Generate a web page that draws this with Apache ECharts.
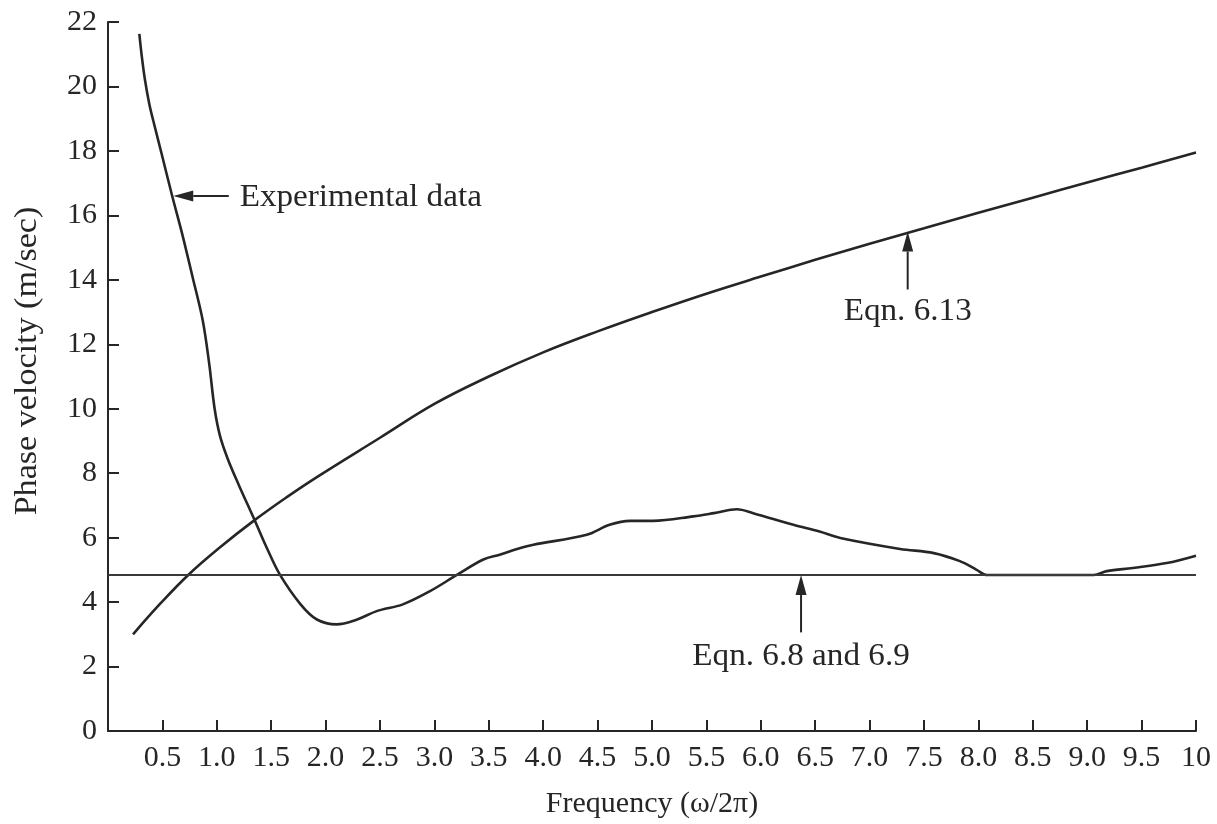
<!DOCTYPE html>
<html>
<head>
<meta charset="utf-8">
<script src="https://cdn.jsdelivr.net/npm/echarts@6/dist/echarts.min.js"></script>
<style>
html,body{margin:0;padding:0;background:#fff;}
#chart{width:1217px;height:824px;}
</style>
</head>
<body>
<div id="chart"></div>
<script>
// ---- data ----
const xTickLabels = ['', '0.5','1.0','1.5','2.0','2.5','3.0','3.5','4.0','4.5','5.0','5.5','6.0','6.5','7.0','7.5','8.0','8.5','9.0','9.5','10'];
const yTickLabels = ['0','2','4','6','8','10','12','14','16','18','20','22'];

const expFreq = [0.288,0.31,0.34,0.38,0.43,0.49,0.59,0.68,0.78,0.87,0.93,0.98,1.03,1.10,1.20,1.34,1.46,1.58,1.77,1.92,2.10,2.29,2.47,2.71,2.96,3.21,3.45,3.60,3.79,3.91,4.40,4.61,4.80,5.01,5.38,5.57,5.78,5.93,6.30,6.54,6.73,7.28,7.59,7.83,7.98,8.08,9.06,9.18,9.42,9.73,10.0];
const expVel  = [21.63,20.95,20.2,19.45,18.75,17.95,16.6,15.45,14.05,12.75,11.4,10.0,9.15,8.45,7.65,6.6,5.68,4.85,3.93,3.46,3.31,3.46,3.72,3.93,4.34,4.85,5.32,5.47,5.68,5.78,6.09,6.4,6.52,6.52,6.66,6.76,6.88,6.76,6.40,6.19,5.99,5.65,5.52,5.27,5.01,4.84,4.84,4.96,5.06,5.21,5.44];

const eq613Freq = [0.23,0.48,0.74,1.03,1.35,1.64,1.92,2.5,3.0,3.5,4.0,4.5,5.0,5.5,6.0,6.5,7.0,7.5,8.0,8.5,9.0,9.5,10.0];
const eq613Vel  = [3.0,3.95,4.85,5.7,6.55,7.25,7.88,9.1,10.15,11.0,11.75,12.4,13.0,13.57,14.1,14.62,15.12,15.6,16.08,16.55,17.02,17.48,17.95];

const eq68Freq = [0, 10];
const eq68Vel  = [4.84, 4.84];

// annotations: label, arrow tip (freq, vel), arrow tail (freq, vel), text anchor (freq, vel)
const annotations = [
  {text:'Experimental data', tip:[0.60,16.6], tail:[1.11,16.6], at:[1.21,16.55], align:'left'},
  {text:'Eqn. 6.13', tip:[7.35,15.5], tail:[7.35,13.7], at:[7.35,13.0], align:'center'},
  {text:'Eqn. 6.8 and 6.9', tip:[6.37,4.84], tail:[6.37,3.06], at:[6.37,2.3], align:'center'}
];

const FONT = '"Liberation Serif", "Times New Roman", serif';
const INK = '#262626';

const chart = echarts.init(document.getElementById('chart'), null, {renderer:'canvas'});
const zip = (a,b)=>a.map((v,i)=>[v,b[i]]);

chart.setOption({
  backgroundColor:'#ffffff',
  animation:false,
  grid:{left:108, right:21, top:22, bottom:90, containLabel:false},
  xAxis:{
    type:'value', min:0, max:10, interval:0.5,
    axisLine:{show:true, onZero:false, lineStyle:{color:INK, width:2}},
    axisTick:{show:true, inside:true, length:11, lineStyle:{color:INK, width:2}},
    axisLabel:{margin:12, color:INK, fontFamily:FONT, fontSize:30,
      formatter:(v)=>xTickLabels[Math.round(v/0.5)] || ''},
    splitLine:{show:false},
    name:'Frequency (ω/2π)', nameLocation:'middle', nameGap:58,
    nameTextStyle:{color:INK, fontFamily:FONT, fontSize:30}
  },
  yAxis:{
    type:'value', min:0, max:22, interval:2,
    axisLine:{show:true, lineStyle:{color:INK, width:2}},
    axisTick:{show:true, inside:true, length:11, lineStyle:{color:INK, width:2}},
    axisLabel:{margin:11, color:INK, fontFamily:FONT, fontSize:30,
      formatter:(v)=>yTickLabels[Math.round(v/2)]},
    splitLine:{show:false}
  },
  series:[
    {type:'line', name:'Experimental data', data:zip(expFreq,expVel), showSymbol:false,
     smooth:0.35, lineStyle:{color:INK, width:2.6}},
    {type:'line', name:'Eqn. 6.13', data:zip(eq613Freq,eq613Vel), showSymbol:false,
     smooth:0.4, lineStyle:{color:INK, width:2.6}},
    {type:'line', name:'Eqn. 6.8 and 6.9', data:zip(eq68Freq,eq68Vel), showSymbol:false,
     lineStyle:{color:'#3a3a3a', width:2}}
  ]
});

function drawAnnotations(){
  const g = [];
  g.push({type:'text', x:28, y:361, rotation:Math.PI/2, scaleX:1.1,
    style:{text:'Phase velocity (m/sec)', fill:INK, font:'31px '+FONT, textAlign:'center', textVerticalAlign:'middle'}});
  annotations.forEach(a=>{
    const tip = chart.convertToPixel({gridIndex:0}, a.tip);
    const tail = chart.convertToPixel({gridIndex:0}, a.tail);
    const at = chart.convertToPixel({gridIndex:0}, a.at);
    const dx = tip[0]-tail[0], dy = tip[1]-tail[1];
    const len = Math.sqrt(dx*dx+dy*dy), ux = dx/len, uy = dy/len;
    const hl = 20, hw = 5.5;
    const bx = tip[0]-ux*hl, by = tip[1]-uy*hl;
    g.push({type:'line', shape:{x1:tail[0], y1:tail[1], x2:bx, y2:by}, style:{stroke:INK, lineWidth:2}});
    g.push({type:'polygon', shape:{points:[[tip[0],tip[1]],[bx-uy*hw, by+ux*hw],[bx+uy*hw, by-ux*hw]]}, style:{fill:INK}});
    g.push({type:'text', x:at[0], y:at[1], scaleX:1.07,
      style:{text:a.text, fill:INK, font:'31px '+FONT, textAlign:a.align, textVerticalAlign:'middle'}});
  });
  chart.setOption({graphic:g});
}
drawAnnotations();
</script>
</body>
</html>
